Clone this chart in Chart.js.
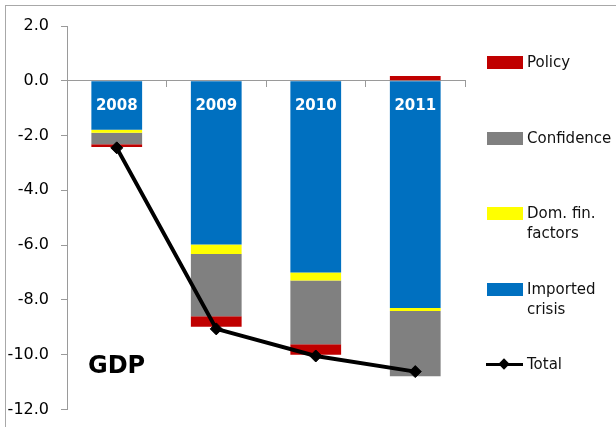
<!DOCTYPE html>
<html>
<head>
<meta charset="utf-8">
<script src="https://cdn.jsdelivr.net/npm/chart.js@4/dist/chart.umd.min.js"></script>
<style>
    body { margin: 0; background: #fff; font-family: 'DejaVu Sans', sans-serif; }
    #wrap { position: relative; width: 616px; height: 427px; overflow: hidden; }
    #frame { position: absolute; left: 5px; top: 5px; width: 700px; height: 500px; border: 1px solid #a8a8a8; }
    #chart { position: absolute; left: 0; top: 0; }
    #legend { position: absolute; left: 486px; top: 0; width: 130px; height: 427px; }
    .item { position: absolute; left: 0; font-size: 15px; line-height: 20px; color: #111; }
    .swatch { position: absolute; left: 1px; top: 4px; width: 36px; height: 13px; }
    .lineKey { position: absolute; left: 0; top: 9px; width: 37px; height: 3px; background: #000; }
    .diamond { position: absolute; left: 14px; top: 6px; width: 8px; height: 8px; background: #000; transform: rotate(45deg); }
    .text { position: absolute; left: 41px; top: 0; white-space: nowrap; }
</style>
</head>
<body>
<div id="wrap">
    <div id="frame"></div>
    <canvas id="chart" width="616" height="431"></canvas>
    <div id="legend"></div>
</div>
<script>
const categories = ['2008', '2009', '2010', '2011'];
const importedCrisis = [-1.79, -5.98, -7.00, -8.30];
const domFinFactors = [-0.11, -0.35, -0.29, -0.11];
const confidence = [-0.42, -2.27, -2.33, -2.38];
const policy = [-0.10, -0.38, -0.38, 0.17];
const total = [-2.45, -9.06, -10.05, -10.62];
const yMin = -12;
const yMax = 2;
const yStep = 2;

const legendLabels = [['Policy'], ['Confidence'], ['Dom. fin.', 'factors'], ['Imported', 'crisis'], ['Total']];
const legendColors = ['#C00000', '#808080', '#FFFF00', '#0070C0', '#000000'];

function buildLegend() {
    const legend = document.getElementById('legend');
    legendLabels.forEach((lines, i) => {
        const item = document.createElement('div');
        item.className = 'item';
        item.style.top = (52 + i * 75.5) + 'px';
        if (i === legendLabels.length - 1) {
            item.innerHTML = '<div class="lineKey"></div><div class="diamond"></div>';
        } else {
            item.innerHTML = `<div class="swatch" style="background:${legendColors[i]}"></div>`;
        }
        const text = document.createElement('div');
        text.className = 'text';
        text.innerHTML = lines.join('<br>');
        item.appendChild(text);
        legend.appendChild(item);
    });
}

// year labels inside the bars and the GDP caption
const labelPlugin = {
    id: 'labelPlugin',
    afterDatasetsDraw(chart) {
        const ctx = chart.ctx;
        const x = chart.scales.x;
        const y = chart.scales.y;
        ctx.save();
        ctx.fillStyle = '#fff';
        ctx.font = 'bold 15px "DejaVu Sans"';
        ctx.textAlign = 'center';
        ctx.textBaseline = 'middle';
        categories.forEach((cat, i) => {
            ctx.fillText(cat, x.getPixelForValue(i), y.getPixelForValue(0) + 25);
        });
        ctx.fillStyle = '#000';
        ctx.font = 'bold 24px "DejaVu Sans"';
        ctx.textAlign = 'left';
        ctx.fillText('GDP', chart.chartArea.left + 21, chart.chartArea.bottom - 43);
        ctx.restore();
    }
};

buildLegend();

const axisColor = '#9a9a9a';

new Chart(document.getElementById('chart'), {
    data: {
        labels: categories,
        datasets: [
            { type: 'line', label: 'Total', data: total, stack: 'total', order: 0,
              borderColor: '#000', backgroundColor: '#000', borderWidth: 4,
              pointStyle: 'rectRot', pointRadius: 6, pointBorderWidth: 1, tension: 0 },
            { type: 'bar', label: 'Imported crisis', data: importedCrisis, backgroundColor: '#0070C0', stack: 's', order: 1 },
            { type: 'bar', label: 'Dom. fin. factors', data: domFinFactors, backgroundColor: '#FFFF00', stack: 's', order: 1 },
            { type: 'bar', label: 'Confidence', data: confidence, backgroundColor: '#808080', stack: 's', order: 1 },
            { type: 'bar', label: 'Policy', data: policy, backgroundColor: '#C00000', stack: 's', order: 1 }
        ]
    },
    options: {
        responsive: false,
        animation: false,
        events: [],
        layout: { padding: { left: 5, right: 151, top: 26, bottom: 19 } },
        datasets: { bar: { categoryPercentage: 1, barPercentage: 0.51 } },
        plugins: { legend: { display: false }, tooltip: { enabled: false } },
        scales: {
            x: {
                stacked: true,
                position: { y: 0 },
                ticks: { display: false },
                afterFit: scale => { scale.height = 0; },
                border: { display: true, color: axisColor, width: 1 },
                grid: { offset: true, drawOnChartArea: false, drawTicks: true, tickLength: 6, color: axisColor }
            },
            y: {
                stacked: true,
                min: yMin,
                max: yMax,
                ticks: {
                    stepSize: yStep,
                    padding: 12,
                    color: '#000',
                    font: { family: 'DejaVu Sans', size: 16 },
                    callback: v => v.toFixed(1)
                },
                afterFit: scale => { scale.width = 62; },
                border: { display: true, color: axisColor, width: 1 },
                grid: { drawOnChartArea: false, drawTicks: true, tickLength: 6, color: axisColor }
            }
        }
    },
    plugins: [labelPlugin]
});
</script>
</body>
</html>
